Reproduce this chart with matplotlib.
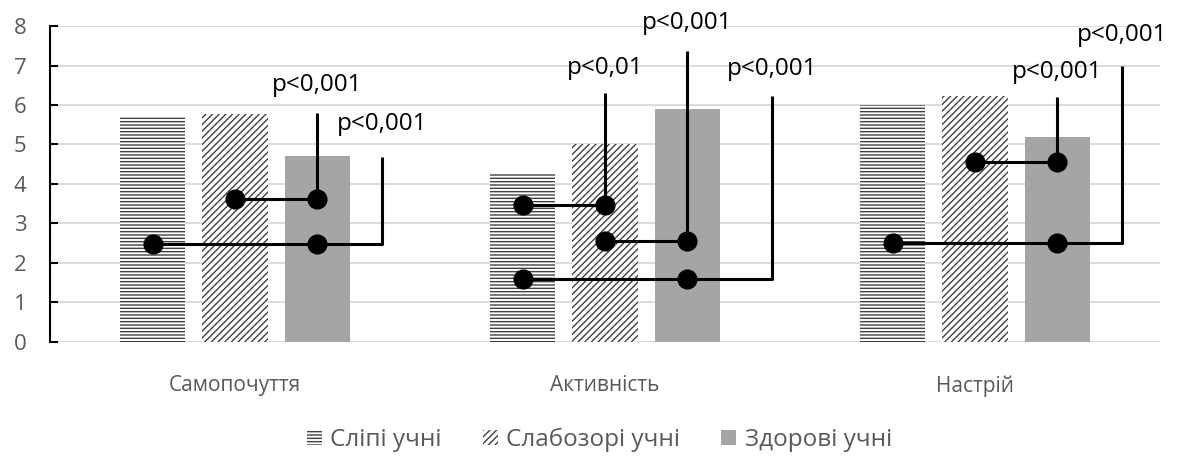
import numpy as np
import matplotlib
matplotlib.use("Agg")
import matplotlib.pyplot as plt

plt.rcParams['font.family'] = ['Open Sans', 'DejaVu Sans']
plt.rcParams['hatch.linewidth'] = 1.0

# categories and series
categories = ['Самопочуття', 'Активність', 'Настрій']
series_names = ['Сліпі учні', 'Слабозорі учні', 'Здорові учні']
blind = [5.69, 4.24, 6.00]
weak = [5.76, 5.01, 6.22]
healthy = [4.71, 5.91, 5.18]

# significance brackets: group, from series, to series, level, top of riser,
# riser offset right of the "to" bar (in bar widths), label, label height
br_group = [0, 0, 1, 1, 1, 2, 2]
br_from = [1, 0, 0, 1, 0, 1, 0]
br_to = [2, 2, 1, 2, 2, 2, 2]
br_level = [3.62, 2.48, 3.46, 2.54, 1.60, 4.55, 2.51]
br_top = [5.80, 4.69, 6.31, 7.37, 6.23, 6.21, 6.99]
br_shift = [0, 1.0, 0, 0, 1.3, 0, 1.0]
br_label = ['p<0,001', 'p<0,001', 'p<0,01', 'p<0,001', 'p<0,001', 'p<0,001', 'p<0,001']
br_label_y = [6.50, 5.52, 6.93, 8.08, 6.90, 6.84, 7.77]

grey = '#595959'
hatch_col = '#404040'

fig = plt.figure(figsize=(11.8, 4.57), dpi=100)
ax = fig.add_axes([0.0424, 0.2523, 0.9406, 0.6907])

x = np.arange(len(categories))
width = 0.176
step = 0.222
offsets = [-step, 0, step]

b0 = ax.bar(x + offsets[0], blind, width, facecolor='white', edgecolor=hatch_col,
            linewidth=0, hatch='-----', label=series_names[0], zorder=2)
b1 = ax.bar(x + offsets[1], weak, width, facecolor='white', edgecolor=hatch_col,
            linewidth=0, hatch='/////', label=series_names[1], zorder=2)
b2 = ax.bar(x + offsets[2], healthy, width, color='#a5a5a5', linewidth=0,
            label=series_names[2], zorder=2)

for g, f, t, lev, top, sh, lab, ly in zip(br_group, br_from, br_to, br_level, br_top,
                                          br_shift, br_label, br_label_y):
    x0 = g + offsets[f]
    x1 = g + offsets[t]
    xr = x1 + sh * width
    ax.plot([x0, xr, xr], [lev, lev, top], color='black', lw=2.2, zorder=4,
            solid_capstyle='butt', clip_on=False)
    ax.plot([x0, x1], [lev, lev], 'o', color='black', ms=13.5, zorder=5, clip_on=False)
    ax.text(xr, ly, lab, ha='center', va='center', fontsize=17.5, color='black',
            clip_on=False, zorder=6)

ax.set_xlim(-0.5, 2.5)
ax.set_ylim(0, 8)
ax.set_yticks(range(0, 9))
ax.set_xticks(x)
ax.set_xticklabels(categories, fontsize=15, color=grey)
ax.tick_params(axis='x', length=0, pad=24)
ax.tick_params(axis='y', direction='in', length=6, width=1.5, pad=17,
               labelsize=16, labelcolor=grey, color='black')
ax.grid(axis='y', color='#d9d9d9', lw=1.3, zorder=0)
ax.set_axisbelow(True)
for s in ['top', 'right', 'bottom']:
    ax.spines[s].set_visible(False)
ax.spines['left'].set_linewidth(1.5)

fig.legend(handles=[b0, b1, b2], loc='center', bbox_to_anchor=(0.508, 0.037), ncol=3,
           frameon=False, fontsize=17.5, labelcolor=grey, handlelength=0.6,
           handleheight=0.6, handletextpad=0.35, columnspacing=1.7)

fig.savefig('out.png', dpi=100)
